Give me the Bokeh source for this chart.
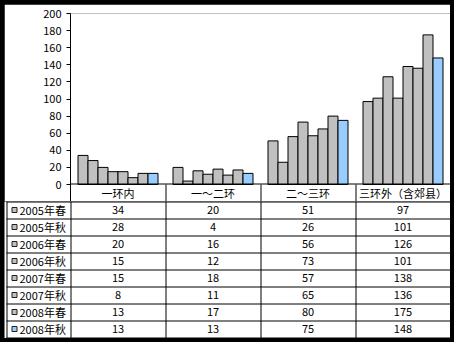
from bokeh.plotting import figure
from bokeh.models import Range1d, FixedTicker, ColumnDataSource
from bokeh.layouts import column
from bokeh.embed import file_html
from bokeh.resources import INLINE
from bokeh.core.properties import value

# ---------------- data ----------------
categories = ["一环内", "一～二环", "二～三环", "三环外（含郊县）"]
series = ["2005年春", "2005年秋", "2006年春", "2006年秋",
          "2007年春", "2007年秋", "2008年春", "2008年秋"]
s2005_spring = [34, 20, 51, 97]
s2005_autumn = [28, 4, 26, 101]
s2006_spring = [20, 16, 56, 126]
s2006_autumn = [15, 12, 73, 101]
s2007_spring = [15, 18, 57, 138]
s2007_autumn = [8, 11, 65, 136]
s2008_spring = [13, 17, 80, 175]
s2008_autumn = [13, 13, 75, 148]
series_values = [s2005_spring, s2005_autumn, s2006_spring, s2006_autumn,
                 s2007_spring, s2007_autumn, s2008_spring, s2008_autumn]
series_colors = ["#C0C0C0"] * 7 + ["#99CCFF"]
yticks = [0, 20, 40, 60, 80, 100, 120, 140, 160, 180, 200]

# ---------------- geometry ----------------
FONT = "Noto Sans CJK SC"
FS = "11px"
W = 446
LEFT = 66
CAT_PX = (W - LEFT) / 4.0
PLOT_PX = 171
HEADER_PX = 17
TOP_PAD = 9
TOP_H = TOP_PAD + PLOT_PX + HEADER_PX
ROW_PX = 17
BOT_H = 137
n_cat = len(categories)
n_ser = len(series)
y_header = -HEADER_PX * 200.0 / PLOT_PX
hx = 0.5 / CAT_PX          # half pixel in x data units
hy_top = 0.5 * 200.0 / PLOT_PX
hy_bot = 0.5 / ROW_PX

# ---------------- chart ----------------
top = figure(width=W, height=TOP_H, x_range=Range1d(0, n_cat),
             y_range=Range1d(y_header, 200), x_axis_type=None,
             toolbar_location=None, output_backend="svg",
             min_border_left=LEFT, min_border_right=0,
             min_border_top=TOP_PAD, min_border_bottom=0,
             frame_align=False)
top.outline_line_color = None
top.grid.visible = False
top.background_fill_color = "white"
top.border_fill_color = "white"

ya = top.yaxis[0]
ya.ticker = FixedTicker(ticks=yticks)
ya.major_tick_out = 4
ya.major_tick_in = 0
ya.minor_tick_out = 0
ya.minor_tick_in = 0
ya.major_label_standoff = 5
ya.axis_line_color = "black"
ya.major_tick_line_color = "black"
ya.major_label_text_font = FONT
ya.major_label_text_font_size = FS
ya.major_label_text_color = "black"

bw = 1.0 / 9.5
xs, tops, cols = [], [], []
for j in range(n_ser):
    for i in range(n_cat):
        xs.append(i + 0.5 + (j - (n_ser - 1) / 2.0) * bw)
        tops.append(series_values[j][i])
        cols.append(series_colors[j])
src = ColumnDataSource(dict(x=xs, top=tops, color=cols))
top.vbar(x="x", top="top", bottom=0, width=bw, fill_color="color",
         line_color="black", line_width=1, source=src)

# x axis line (y=0) and header separators
top.segment(x0=[0], y0=[hy_top], x1=[n_cat], y1=[hy_top],
            line_color="black", line_width=1)
top.segment(x0=[c + hx for c in range(1, n_cat)], y0=[0] * (n_cat - 1),
            x1=[c + hx for c in range(1, n_cat)], y1=[y_header] * (n_cat - 1),
            line_color="black", line_width=1)
top.text(x=[i + 0.5 for i in range(n_cat)], y=[y_header / 2.0] * n_cat,
         text=categories, text_align="center", text_baseline="middle",
         text_font=value(FONT), text_font_size=FS, text_color="black")

# ---------------- data table ----------------
x_left = -LEFT / CAT_PX
x_tab = (2 - LEFT) / CAT_PX
bot = figure(width=W, height=BOT_H, x_range=Range1d(x_left, n_cat),
             y_range=Range1d(n_ser - BOT_H / float(ROW_PX), n_ser),
             x_axis_type=None, y_axis_type=None,
             toolbar_location=None, output_backend="svg",
             min_border_left=0, min_border_right=0,
             min_border_top=0, min_border_bottom=0,
             frame_align=False)
bot.outline_line_color = None
bot.grid.visible = False
bot.background_fill_color = "white"
bot.border_fill_color = "white"

hy = [k - hy_bot for k in range(n_ser + 1)]
bot.segment(x0=[x_tab] * len(hy), y0=hy, x1=[n_cat] * len(hy), y1=hy,
            line_color="black", line_width=1)
vx = [x_tab + hx] + [c + hx for c in range(n_cat)]
bot.segment(x0=vx, y0=[-hy_bot] * len(vx), x1=vx, y1=[n_ser] * len(vx),
            line_color="black", line_width=1)

row_y = [n_ser - 0.5 - j for j in range(n_ser)]
bot.scatter(x=[(10 - LEFT) / CAT_PX] * n_ser, y=row_y, marker="square", size=5,
            fill_color=series_colors, line_color="#202020", line_width=1)
bot.text(x=[(15 - LEFT) / CAT_PX] * n_ser, y=row_y, text=series,
         text_align="left", text_baseline="middle",
         text_font=value(FONT), text_font_size=FS, text_color="black")

tx, ty, tt = [], [], []
for j in range(n_ser):
    for i in range(n_cat):
        tx.append(i + 0.5)
        ty.append(row_y[j])
        tt.append(str(series_values[j][i]))
bot.text(x=tx, y=ty, text=tt, text_align="center", text_baseline="middle",
         text_font=value(FONT), text_font_size=FS, text_color="black")

layout = column(top, bot, spacing=0,
                styles={"background-color": "black", "padding": "4px"})

open("out.html", "w").write(file_html(layout, INLINE))
